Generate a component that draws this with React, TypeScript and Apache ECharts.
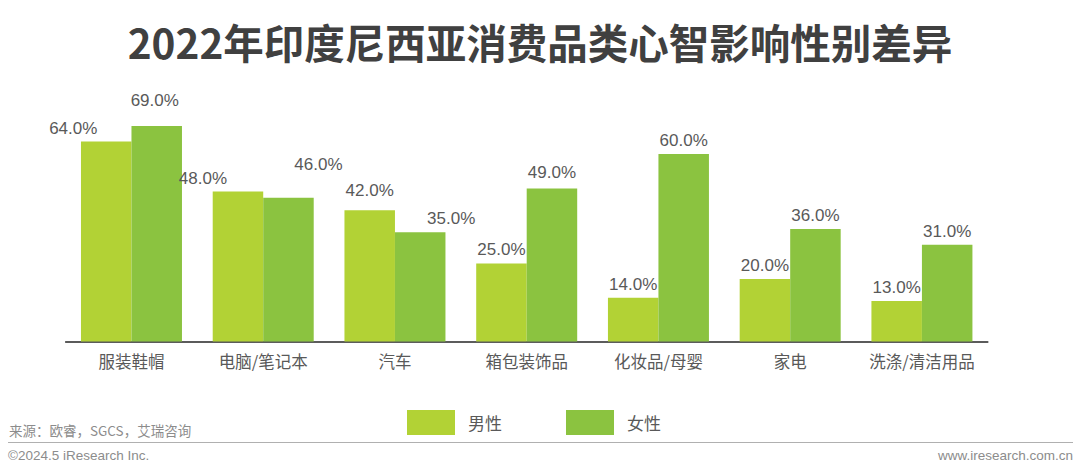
import React, { useEffect, useRef } from "react";
import * as echarts from "echarts";

const categories = ["服装鞋帽", "电脑/笔记本", "汽车", "箱包装饰品", "化妆品/母婴", "家电", "洗涤/清洁用品"];
const maleValues = [64, 48, 42, 25, 14, 20, 13];
const femaleValues = [69, 46, 35, 49, 60, 36, 31];
const seriesNames = ["男性", "女性"];
const titleText = "2022年印度尼西亚消费品类心智影响性别差异";
const sourceText = "来源：欧睿，SGCS，艾瑞咨询";
const copyrightText = "©2024.5 iResearch Inc.";
const siteText = "www.iresearch.com.cn";

// label nudges (style only)
const maleNudge: [number, number][] = [[-33, 0], [-35, 0], [0, -6], [0, 0], [0, 0], [0, 0], [0, 0]];
const femaleNudge: [number, number][] = [[-2, -12], [30, -20], [31, 0], [0, -2], [0, 0], [0, 0], [0, 0]];

const MALE = "#B2D235";
const FEMALE = "#8BC340";

export default function App() {
  const ref = useRef<HTMLDivElement>(null);
  useEffect(() => {
    if (!ref.current) return;
    const chart = echarts.init(ref.current, undefined, { renderer: "svg" });
    const labelBase = {
      show: true,
      position: "top",
      distance: 5,
      color: "#595959",
      fontSize: 17,
      fontFamily: "Liberation Sans, Arial, sans-serif",
      formatter: (p: any) => Number(p.value).toFixed(1) + "%",
    };
    const mk = (vals: number[], nudges: [number, number][]) =>
      vals.map((v, i) => ({ value: v, label: { offset: nudges[i] } }));
    chart.setOption({
      animation: false,
      backgroundColor: "#ffffff",
      title: {
        text: titleText,
        left: "center",
        top: 16,
        textStyle: {
          fontSize: 40.5,
          fontWeight: "bold",
          color: "#404040",
          fontFamily: "Noto Sans CJK SC",
        },
      },
      legend: {
        data: seriesNames,
        left: 407,
        top: 410,
        padding: 0,
        icon: "rect",
        itemWidth: 48,
        itemHeight: 25,
        itemGap: 64,
        textStyle: {
          fontSize: 17,
          color: "#595959",
          fontFamily: "Noto Sans CJK SC",
          padding: [0, 0, 0, 8],
        },
      },
      grid: { left: 65.6, right: 92.2, top: 91.5, bottom: 127.5 },
      xAxis: {
        type: "category",
        data: categories,
        axisLine: { lineStyle: { color: "#262626", width: 1.5 } },
        axisTick: { show: false },
        axisLabel: {
          color: "#595959",
          fontSize: 16.5,
          fontFamily: "Noto Sans CJK SC",
          margin: 11,
          interval: 0,
        },
      },
      yAxis: {
        type: "value",
        min: 0,
        max: 80,
        show: false,
        splitLine: { show: false },
      },
      series: [
        {
          name: seriesNames[0],
          type: "bar",
          data: mk(maleValues, maleNudge),
          barWidth: 50.5,
          barGap: "0%",
          itemStyle: { color: MALE },
          label: labelBase,
        },
        {
          name: seriesNames[1],
          type: "bar",
          data: mk(femaleValues, femaleNudge),
          barWidth: 50.5,
          barGap: "0%",
          itemStyle: { color: FEMALE },
          label: labelBase,
        },
      ],
      graphic: [
        {
          type: "text",
          left: 9,
          top: 423,
          style: {
            text: sourceText,
            fontSize: 13.5,
            fill: "#8c8c8c",
            fontFamily: "Noto Sans CJK SC",
          },
        },
        {
          type: "line",
          shape: { x1: 8, y1: 442.5, x2: 1073, y2: 442.5 },
          style: { stroke: "#b0b0b0", lineWidth: 1 },
        },
        {
          type: "text",
          left: 8,
          top: 448,
          style: {
            text: copyrightText,
            fontSize: 13.5,
            fill: "#8c8c8c",
            fontFamily: "Liberation Sans, Arial, sans-serif",
          },
        },
        {
          type: "text",
          right: 7,
          top: 448,
          style: {
            text: siteText,
            fontSize: 13.5,
            fill: "#8c8c8c",
            fontFamily: "Liberation Sans, Arial, sans-serif",
          },
        },
      ],
    });
    return () => chart.dispose();
  }, []);
  return (
    <div
      ref={ref}
      style={{ position: "fixed", left: 0, top: 0, width: 1080, height: 469 }}
    />
  );
}
